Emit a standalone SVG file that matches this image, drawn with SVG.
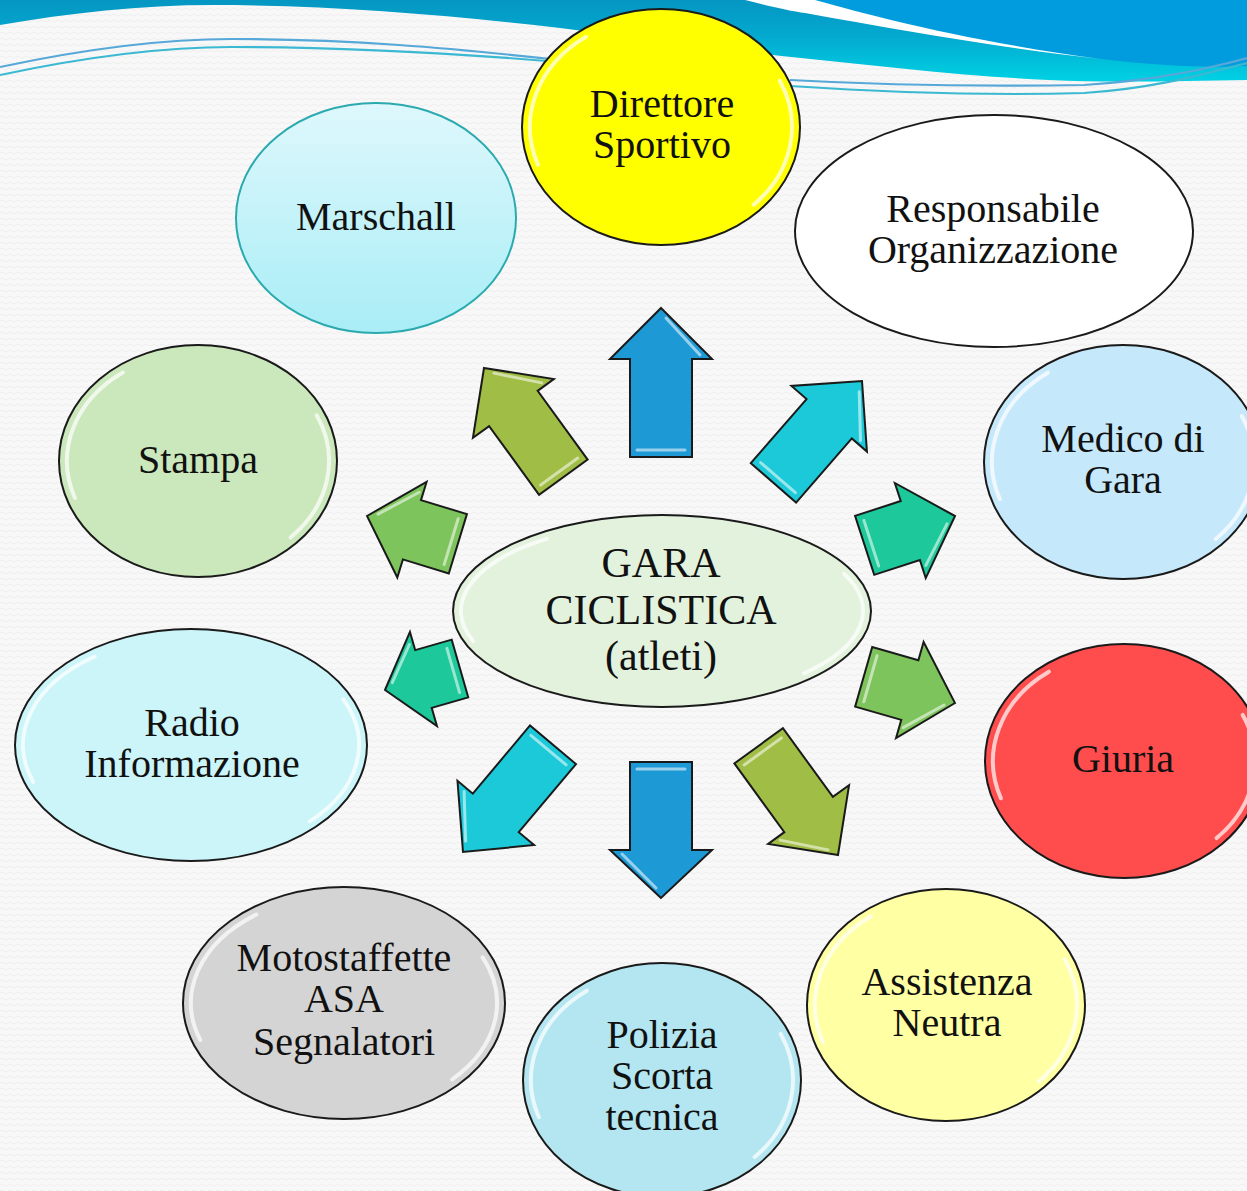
<svg xmlns="http://www.w3.org/2000/svg" width="1247" height="1191" viewBox="0 0 1247 1191">
<defs>
  <pattern id="bgpat" width="8" height="6" patternUnits="userSpaceOnUse">
    <rect width="8" height="6" fill="#f8f8f8"/>
    <path d="M0,3 Q2,1 4,3 T8,3" fill="none" stroke="#ebebeb" stroke-width="0.8"/>
  </pattern>
  <linearGradient id="band" x1="0" y1="0" x2="0" y2="80" gradientUnits="userSpaceOnUse">
    <stop offset="0" stop-color="#0596c2"/>
    <stop offset="0.45" stop-color="#03a9cf"/>
    <stop offset="1" stop-color="#00d0e3"/>
  </linearGradient>
  <linearGradient id="marsch" x1="0" y1="0" x2="0" y2="1">
    <stop offset="0" stop-color="#def8fc"/>
    <stop offset="1" stop-color="#a9edf6"/>
  </linearGradient>
  <style>
    .node { stroke: #1a1a1a; stroke-width: 2; }
    .gloss { fill: none; stroke: #ffffff; stroke-opacity: 0.7; stroke-width: 4; stroke-linecap: round; vector-effect: non-scaling-stroke; }
    .t { font-family: "Liberation Serif", "Times New Roman", serif; font-size: 40px; text-anchor: middle; fill: #111111; }
    .tc { font-family: "Liberation Serif", "Times New Roman", serif; font-size: 42px; text-anchor: middle; fill: #111111; }
    .arr { stroke: #1a1a1a; stroke-width: 2; stroke-linejoin: miter; }
    .ahl { fill: none; stroke: #ffffff; stroke-opacity: 0.55; stroke-width: 3; stroke-linecap: round; }
    .blue { fill: #1d9ad6; }
    .olive { fill: #a0bd45; }
    .cyan { fill: #1cc9d8; }
    .green { fill: #7dc45c; }
    .teal { fill: #1dc89a; }
    .line1 { fill: none; stroke: #55a8d8; stroke-width: 2.2; }
    .line2 { fill: none; stroke: #3bb8d2; stroke-width: 2.2; }
  </style>
</defs>

<rect width="1247" height="1191" fill="url(#bgpat)"/>

<g id="banner">
  <path d="M0,25 C70,13 140,5 214,5 C330,5 450,15 560,28 C640,38 720,50 801,58 C880,66 960,76 1049,80 C1110,83 1180,81 1247,80 V0 H0 Z" fill="url(#band)"/>
  <path d="M815,0 C870,15 960,40 1101,59 C1160,66 1210,68 1247,66 V0 Z" fill="#009cdd"/>
  <path d="M745,0 C765,5 790,11 805,13 C900,30 1000,48 1101,59 C960,40 870,15 815,0 Z" fill="#ffffff"/>
  <path class="line1" d="M0,67 C80,50 160,39 232,39 C350,39 450,48 560,60"/>
  <path class="line2" d="M0,75 C80,58 160,47 232,47 C350,47 450,53 560,62"/>
  <path class="line1" d="M790,80 C880,85 960,87 1084,85 C1160,80 1210,68 1247,58"/>
  <path class="line2" d="M790,86 C880,92 980,96 1084,93 C1160,88 1210,72 1247,63"/>
</g>

<g id="connectors">
  <g transform="translate(661,308)">
    <polygon class="arr blue" points="0,0 51,51 31,51 31,149 -31,149 -31,51 -51,51"/>
    <path class="ahl" d="M5,10 L39,47 M-24,142 L24,142"/>
  </g>
  <g transform="translate(484,368) rotate(-36)">
    <polygon class="arr olive" points="0,0 50,50 30,50 30,135 -30,135 -30,50 -50,50"/>
    <path class="ahl" d="M5,10 L38,46 M-23,128 L23,128"/>
  </g>
  <g transform="translate(862,381) rotate(41)">
    <polygon class="arr cyan" points="0,0 50,50 30,50 30,135 -30,135 -30,50 -50,50"/>
    <path class="ahl" d="M5,10 L38,46 M-23,128 L23,128"/>
  </g>
  <g transform="translate(367,516) rotate(-73)">
    <polygon class="arr green" points="0,0 50,47 31,47 31,95 -31,95 -31,47 -50,47"/>
    <path class="ahl" d="M5,10 L38,43 M-24,88 L24,88"/>
  </g>
  <g transform="translate(955,516) rotate(72)">
    <polygon class="arr teal" points="0,0 50,47 31,47 31,95 -31,95 -31,47 -50,47"/>
    <path class="ahl" d="M5,10 L38,43 M-24,88 L24,88"/>
  </g>
  <g transform="translate(385,690) rotate(-106)">
    <polygon class="arr teal" points="0,0 49,40 30,40 30,78 -30,78 -30,40 -49,40"/>
    <path class="ahl" d="M5,9 L37,36 M-23,71 L23,71"/>
  </g>
  <g transform="translate(955,703) rotate(106)">
    <polygon class="arr green" points="0,0 50,47 31,47 31,95 -31,95 -31,47 -50,47"/>
    <path class="ahl" d="M5,10 L38,43 M-24,88 L24,88"/>
  </g>
  <g transform="translate(463,852) rotate(-140)">
    <polygon class="arr cyan" points="0,0 50,51 30,51 30,140 -30,140 -30,51 -50,51"/>
    <path class="ahl" d="M5,10 L38,47 M-23,133 L23,133"/>
  </g>
  <g transform="translate(661,898) rotate(180)">
    <polygon class="arr blue" points="0,0 51,48 31,48 31,136 -31,136 -31,48 -51,48"/>
    <path class="ahl" d="M5,10 L39,44 M-24,129 L24,129"/>
  </g>
  <g transform="translate(838,855) rotate(144)">
    <polygon class="arr olive" points="0,0 50,50 30,50 30,135 -30,135 -30,50 -50,50"/>
    <path class="ahl" d="M5,10 L38,46 M-23,128 L23,128"/>
  </g>
</g>

<g id="node-direttore">
  <ellipse class="node" cx="661" cy="127" rx="139" ry="118" fill="#ffff00"/>
  <path class="gloss" transform="translate(661,127) scale(131,110)" d="M-0.9397,0.342 A1,1 0 0 1 -0.5736,-0.8192 M0.9063,-0.4226 A1,1 0 0 1 0.7071,0.7071"/>
  <text class="t" x="662" y="117">Direttore</text>
  <text class="t" x="662" y="158">Sportivo</text>
</g>

<g id="node-marschall">
  <ellipse cx="376" cy="218" rx="140" ry="115" fill="url(#marsch)" stroke="#2aa9ae" stroke-width="2"/>
  <text class="t" x="376" y="230">Marschall</text>
</g>

<g id="node-responsabile">
  <ellipse class="node" cx="994" cy="231" rx="199" ry="116" fill="#ffffff"/>
  <text class="t" x="993" y="222">Responsabile</text>
  <text class="t" x="993" y="263">Organizzazione</text>
</g>

<g id="node-stampa">
  <ellipse class="node" cx="198" cy="461" rx="139" ry="116" fill="#cbe7bc"/>
  <path class="gloss" transform="translate(198,461) scale(131,108)" d="M-0.9397,0.342 A1,1 0 0 1 -0.5736,-0.8192 M0.9063,-0.4226 A1,1 0 0 1 0.7071,0.7071"/>
  <text class="t" x="198" y="473">Stampa</text>
</g>

<g id="node-medico">
  <ellipse class="node" cx="1123" cy="462" rx="139" ry="117" fill="#c5e8fa"/>
  <path class="gloss" transform="translate(1123,462) scale(131,109)" d="M-0.9397,0.342 A1,1 0 0 1 -0.5736,-0.8192 M0.9063,-0.4226 A1,1 0 0 1 0.7071,0.7071"/>
  <text class="t" x="1123" y="452">Medico di</text>
  <text class="t" x="1123" y="493">Gara</text>
</g>

<g id="node-gara">
  <ellipse class="node" cx="662" cy="611" rx="209" ry="96" fill="#e3f2dd"/>
  <path class="gloss" transform="translate(662,611) scale(201,88)" d="M-0.9397,0.342 A1,1 0 0 1 -0.5736,-0.8192 M0.9063,-0.4226 A1,1 0 0 1 0.7071,0.7071"/>
  <text class="tc" x="661" y="577">GARA</text>
  <text class="tc" x="661" y="624">CICLISTICA</text>
  <text class="tc" x="661" y="670">(atleti)</text>
</g>

<g id="node-radio">
  <ellipse class="node" cx="191" cy="745" rx="176" ry="116" fill="#cbf5f8"/>
  <path class="gloss" transform="translate(191,745) scale(168,108)" d="M-0.9397,0.342 A1,1 0 0 1 -0.5736,-0.8192 M0.9063,-0.4226 A1,1 0 0 1 0.7071,0.7071"/>
  <text class="t" x="192" y="736">Radio</text>
  <text class="t" x="192" y="777">Informazione</text>
</g>

<g id="node-giuria">
  <ellipse class="node" cx="1124" cy="761" rx="139" ry="117" fill="#ff4d4d"/>
  <path class="gloss" transform="translate(1124,761) scale(131,109)" d="M-0.9397,0.342 A1,1 0 0 1 -0.5736,-0.8192 M0.9063,-0.4226 A1,1 0 0 1 0.7071,0.7071"/>
  <text class="t" x="1123" y="772">Giuria</text>
</g>

<g id="node-motostaffette">
  <ellipse class="node" cx="344" cy="1003" rx="161" ry="116" fill="#d4d4d4"/>
  <path class="gloss" transform="translate(344,1003) scale(153,108)" d="M-0.9397,0.342 A1,1 0 0 1 -0.5736,-0.8192 M0.9063,-0.4226 A1,1 0 0 1 0.7071,0.7071"/>
  <text class="t" x="344" y="971">Motostaffette</text>
  <text class="t" x="344" y="1012">ASA</text>
  <text class="t" x="344" y="1055">Segnalatori</text>
</g>

<g id="node-assistenza">
  <ellipse class="node" cx="946" cy="1005" rx="139" ry="116" fill="#ffffa3"/>
  <path class="gloss" transform="translate(946,1005) scale(131,108)" d="M-0.9397,0.342 A1,1 0 0 1 -0.5736,-0.8192 M0.9063,-0.4226 A1,1 0 0 1 0.7071,0.7071"/>
  <text class="t" x="947" y="995">Assistenza</text>
  <text class="t" x="947" y="1036">Neutra</text>
</g>

<g id="node-polizia">
  <ellipse class="node" cx="662" cy="1080" rx="139" ry="117" fill="#b3e6f0"/>
  <path class="gloss" transform="translate(662,1080) scale(131,109)" d="M-0.9397,0.342 A1,1 0 0 1 -0.5736,-0.8192 M0.9063,-0.4226 A1,1 0 0 1 0.7071,0.7071"/>
  <text class="t" x="662" y="1048">Polizia</text>
  <text class="t" x="662" y="1089">Scorta</text>
  <text class="t" x="662" y="1130">tecnica</text>
</g>
</svg>
